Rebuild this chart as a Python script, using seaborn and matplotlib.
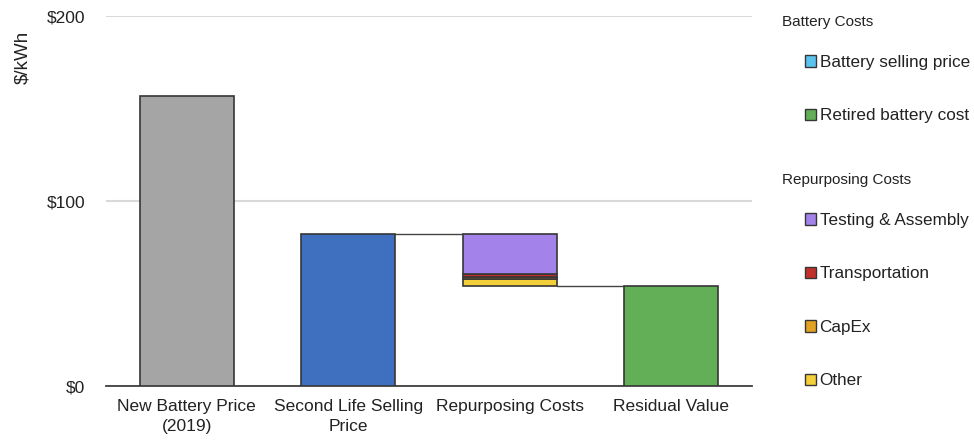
import matplotlib
matplotlib.use("Agg")
import matplotlib.pyplot as plt
from matplotlib.patches import Patch
import seaborn as sns
import pandas as pd
import numpy as np

# data
categories = ["New Battery Price\n(2019)", "Second Life Selling\nPrice",
              "Repurposing Costs", "Residual Value"]
bar_values = [157, 82, np.nan, 54]
bar_colors = ["#A5A5A5", "#3F6FBF", "#FFFFFF", "#63AF58"]

repurpose_labels = ["Other", "CapEx", "Transportation", "Testing & Assembly"]
repurpose_values = [3.8, 1.0, 1.6, 21.6]
repurpose_colors = ["#F3D03A", "#E2A222", "#C2302B", "#A383EA"]

legend_battery = ["Battery selling price", "Retired battery cost"]
legend_battery_colors = ["#5CC3EE", "#63AF58"]
legend_repurpose = ["Testing & Assembly", "Transportation", "CapEx", "Other"]
legend_repurpose_colors = ["#A383EA", "#C2302B", "#E2A222", "#F3D03A"]

yticks = [0, 100, 200]
ytick_labels = ["$0", "$100", "$200"]

BAR_W = 0.58
EDGE = "#363636"
TXT = "#222222"

sns.set_style("white")
plt.rcParams["font.family"] = ["Liberation Sans", "DejaVu Sans"]

fig = plt.figure(figsize=(9.74, 4.4), dpi=100)
ax = fig.add_axes([106 / 974, 1 - 386 / 440, (752 - 106) / 974, (386 - 16) / 440])

df = pd.DataFrame({"category": categories, "value": bar_values})
sns.barplot(data=df, x="category", y="value", hue="category", order=categories,
            palette=dict(zip(categories, bar_colors)), width=BAR_W, saturation=1,
            edgecolor=EDGE, linewidth=1.2, legend=False, ax=ax, zorder=3)

# stacked repurposing segments, sitting on the residual value
bottom = bar_values[3]
for val, col in zip(repurpose_values, repurpose_colors):
    ax.bar(2, val, bottom=bottom, width=BAR_W, color=col,
           edgecolor=EDGE, linewidth=1.2, zorder=3)
    bottom += val

# connector lines
ax.plot([1 + BAR_W / 2, 2 - BAR_W / 2], [bar_values[1]] * 2, color="#444444", lw=1, zorder=2)
ax.plot([2 + BAR_W / 2, 3 - BAR_W / 2], [bar_values[3]] * 2, color="#444444", lw=1, zorder=2)

ax.set_xlim(-0.5, 3.5)
ax.set_ylim(0, 200)
ax.set_yticks(yticks)
ax.set_yticklabels(ytick_labels)
ax.set_xlabel("")
ax.set_ylabel("")
ax.yaxis.grid(True, color="#D9D9D9", lw=1.5, zorder=0)
ax.set_axisbelow(True)
for s in ["top", "right", "left"]:
    ax.spines[s].set_visible(False)
ax.spines["bottom"].set_color("#404040")
ax.spines["bottom"].set_linewidth(1.3)
ax.tick_params(axis="y", length=0, pad=15, labelsize=12.5, labelcolor=TXT)
ax.tick_params(axis="x", length=0, pad=9, labelsize=12.5, labelcolor=TXT)
for lbl in ax.get_xticklabels():
    lbl.set_linespacing(1.45)

fig.text(23 / 974, 1 - 57 / 440, "$/kWh", rotation=90, ha="center", va="center",
         fontsize=13.5, color=TXT)

# legend groups
fig.text(782 / 974, 1 - 22 / 440, "Battery Costs", ha="left", va="center",
         fontsize=11, color=TXT)
fig.text(782 / 974, 1 - 180 / 440, "Repurposing Costs", ha="left", va="center",
         fontsize=11, color=TXT)

leg_kw = dict(loc="upper left", frameon=False, fontsize=12.3, handlelength=0.65,
              handleheight=0.65, handletextpad=0.2, labelspacing=2.25,
              borderpad=0, borderaxespad=0, labelcolor=TXT)
h1 = [Patch(facecolor=c, edgecolor=EDGE, lw=1) for c in legend_battery_colors]
fig.legend(h1, legend_battery, bbox_to_anchor=(805 / 974, 1 - 55 / 440), **leg_kw)
h2 = [Patch(facecolor=c, edgecolor=EDGE, lw=1) for c in legend_repurpose_colors]
fig.legend(h2, legend_repurpose, bbox_to_anchor=(805 / 974, 1 - 213 / 440), **leg_kw)

fig.savefig("out.png", dpi=100)
